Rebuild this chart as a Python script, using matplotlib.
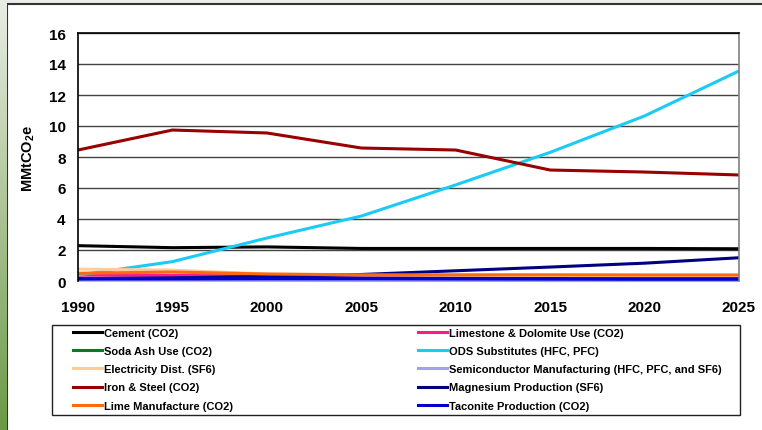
import matplotlib
matplotlib.use("Agg")
import matplotlib.pyplot as plt
import numpy as np
from matplotlib.patches import Rectangle
from matplotlib.lines import Line2D

plt.rcParams['font.family'] = ['Liberation Sans', 'DejaVu Sans']
plt.rcParams['mathtext.fontset'] = 'custom'
plt.rcParams['mathtext.rm'] = 'Liberation Sans:bold'
plt.rcParams['mathtext.bf'] = 'Liberation Sans:bold'
plt.rcParams['mathtext.it'] = 'Liberation Sans:bold'

years = [1990, 1995, 2000, 2005, 2010, 2015, 2020, 2025]

cement = [2.28, 2.15, 2.2, 2.1, 2.1, 2.1, 2.1, 2.08]
limestone = [0.38, 0.36, 0.33, 0.32, 0.32, 0.32, 0.32, 0.32]
soda_ash = [0.12, 0.11, 0.1, 0.09, 0.09, 0.09, 0.09, 0.09]
ods = [0.38, 1.25, 2.77, 4.19, 6.2, 8.3, 10.65, 13.55]
electricity = [0.77, 0.7, 0.45, 0.38, 0.35, 0.33, 0.32, 0.32]
semiconductor = [0.05, 0.05, 0.04, 0.03, 0.03, 0.03, 0.03, 0.03]
iron_steel = [8.45, 9.74, 9.55, 8.58, 8.45, 7.16, 7.03, 6.84]
magnesium = [0.15, 0.2, 0.3, 0.42, 0.66, 0.9, 1.15, 1.5]
lime = [0.5, 0.58, 0.45, 0.4, 0.4, 0.4, 0.39, 0.39]
taconite = [0.15, 0.15, 0.16, 0.16, 0.15, 0.14, 0.13, 0.13]

series = [
    ("Cement (CO2)", cement, "#000000"),
    ("Limestone & Dolomite Use (CO2)", limestone, "#FF1A8C"),
    ("Soda Ash Use (CO2)", soda_ash, "#0A7A25"),
    ("ODS Substitutes (HFC, PFC)", ods, "#1ACBF5"),
    ("Electricity Dist. (SF6)", electricity, "#FFCC99"),
    ("Semiconductor Manufacturing (HFC, PFC, and SF6)", semiconductor, "#A0A0F5"),
    ("Iron & Steel (CO2)", iron_steel, "#990000"),
    ("Magnesium Production (SF6)", magnesium, "#000080"),
    ("Lime Manufacture (CO2)", lime, "#FF6A0A"),
    ("Taconite Production (CO2)", taconite, "#0000CC"),
]

col1 = ["Cement (CO2)", "Soda Ash Use (CO2)", "Electricity Dist. (SF6)", "Iron & Steel (CO2)",
        "Lime Manufacture (CO2)"]
col2 = ["Limestone & Dolomite Use (CO2)", "ODS Substitutes (HFC, PFC)",
        "Semiconductor Manufacturing (HFC, PFC, and SF6)", "Magnesium Production (SF6)",
        "Taconite Production (CO2)"]

W, H = 762, 431
fig = plt.figure(figsize=(W / 100, H / 100), dpi=100)
fig.patch.set_facecolor("#ECEDE8")

# left gradient strip
gax = fig.add_axes([0, 0, 7 / W, 1])
grad = np.linspace(0, 1, 256).reshape(-1, 1)
c_top = np.array([0.92, 0.93, 0.90])
c_bot = np.array([0.42, 0.60, 0.27])
img = c_top[None, None, :] * (1 - grad[:, :, None]) + c_bot[None, None, :] * grad[:, :, None]
gax.imshow(img, aspect="auto", extent=[0, 1, 0, 1])
gax.axis("off")

# white panel
fig.patches.append(Rectangle((7 / W, -0.01), 1, 1.01 - 5 / H, transform=fig.transFigure,
                             facecolor="white", edgecolor="#333333", linewidth=1.5, zorder=-5))

ax = fig.add_axes([78 / W, 1 - 282 / H, (739 - 78) / W, (282 - 34) / H])
handles = {}
for name, vals, col in series:
    lw = 2.6 if name.startswith("Taconite") else 2.2
    (ln,) = ax.plot(years, vals, color=col, linewidth=lw, solid_capstyle="butt", clip_on=False)
    handles[name] = ln

ax.set_xlim(1990, 2025)
ax.set_ylim(0, 16)
ax.set_xticks(years)
ax.set_yticks(range(0, 17, 2))
ax.yaxis.grid(True, color="#444444", linewidth=1.0)
ax.set_axisbelow(True)
for s in ["top", "left"]:
    ax.spines[s].set_color("#000000")
    ax.spines[s].set_linewidth(1.2)
ax.spines["right"].set_color("#808080")
ax.spines["right"].set_linewidth(1.2)
ax.spines["bottom"].set_visible(False)
ax.tick_params(axis="both", length=0, labelsize=11)
ax.tick_params(axis="x", pad=14)
ax.tick_params(axis="y", pad=9)
for lab in ax.get_xticklabels() + ax.get_yticklabels():
    lab.set_fontweight("bold")

fig.text(29 / W, 1 - 158 / H, r"MMtCO$_{2}$e", rotation=90, ha="center", va="center",
         fontsize=10.5, fontweight="bold")

# legend frame
fig.patches.append(Rectangle((52 / W, 1 - 416 / H), 688 / W, 90 / H, transform=fig.transFigure,
                             facecolor="white", edgecolor="#222222", linewidth=1.0, zorder=1))


def make_legend(names, x_px):
    hs = [Line2D([], [], color=handles[n].get_color(), linewidth=2.2) for n in names]
    lg = fig.legend(hs, names, loc="upper left", ncol=1,
                    bbox_to_anchor=(x_px / W, 1 - 326 / H),
                    frameon=False, prop={"weight": "bold", "size": 8},
                    handlelength=2.6, handletextpad=0.2, labelspacing=0.74,
                    borderpad=0.25, borderaxespad=0)
    lg.set_zorder(2)
    return lg


make_legend(col1, 70)
make_legend(col2, 415)

fig.savefig("out.png", dpi=100, facecolor=fig.get_facecolor())
